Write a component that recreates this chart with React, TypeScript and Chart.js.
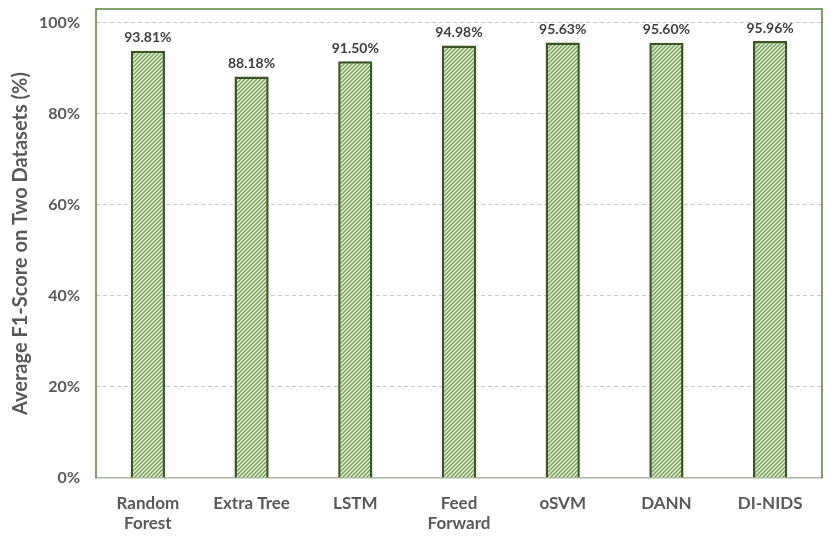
import React, { useEffect, useRef } from 'react';
import { Chart, registerables } from 'chart.js';

Chart.register(...registerables);

const models = [['Random', 'Forest'], 'Extra Tree', 'LSTM', ['Feed', 'Forward'], 'oSVM', 'DANN', 'DI-NIDS'];
const f1Scores = [93.81, 88.18, 91.5, 94.98, 95.63, 95.6, 95.96];
const yTicks = [0, 20, 40, 60, 80, 100];

const FONT = 'Lato, "Open Sans", sans-serif';
const TEXT = '#595959';

function makeHatch(): CanvasPattern | string {
  const c = document.createElement('canvas');
  c.width = 4;
  c.height = 4;
  const g = c.getContext('2d');
  if (!g) return '#c5deb5';
  g.fillStyle = '#ffffff';
  g.fillRect(0, 0, 4, 4);
  g.strokeStyle = '#76a855';
  g.lineWidth = 1.6;
  g.beginPath();
  g.moveTo(-1, 5);
  g.lineTo(5, -1);
  g.moveTo(-1, 1);
  g.lineTo(1, -1);
  g.moveTo(3, 5);
  g.lineTo(5, 3);
  g.stroke();
  return g.createPattern(c, 'repeat') || '#c5deb5';
}

const frame = {
  id: 'frame',
  afterDraw(chart: any) {
    const { ctx, chartArea: a } = chart;
    ctx.save();
    ctx.strokeStyle = '#548235';
    ctx.lineWidth = 1.5;
    ctx.beginPath();
    ctx.moveTo(a.left, a.bottom);
    ctx.lineTo(a.left, a.top);
    ctx.lineTo(a.right, a.top);
    ctx.lineTo(a.right, a.bottom);
    ctx.stroke();
    ctx.restore();
  },
};

const valueLabels = {
  id: 'valueLabels',
  afterDatasetsDraw(chart: any) {
    const { ctx } = chart;
    const meta = chart.getDatasetMeta(0);
    ctx.save();
    ctx.font = `bold 14px ${FONT}`;
    ctx.fillStyle = '#404040';
    ctx.textAlign = 'center';
    ctx.textBaseline = 'bottom';
    meta.data.forEach((bar: any, i: number) => {
      ctx.fillText(f1Scores[i].toFixed(2) + '%', bar.x, bar.y - 6);
    });
    ctx.restore();
  },
};

const App = () => {
  const chartRef = useRef<HTMLCanvasElement>(null);
  const chartInstance = useRef<Chart | null>(null);

  useEffect(() => {
    document.body.style.margin = '0';
    if (chartRef.current) {
      if (chartInstance.current) {
        chartInstance.current.destroy();
      }
      chartInstance.current = new Chart(chartRef.current, {
        type: 'bar',
        data: {
          labels: models,
          datasets: [
            {
              data: f1Scores,
              backgroundColor: makeHatch(),
              borderColor: '#375623',
              borderWidth: 2.5,
              barPercentage: 0.33,
              categoryPercentage: 1,
            },
          ],
        },
        options: {
          animation: false,
          responsive: false,
          layout: { padding: { top: 9, right: 8, left: 0, bottom: 0 } },
          plugins: {
            legend: { display: false },
            tooltip: { enabled: false },
          },
          scales: {
            x: {
              grid: { display: false },
              border: { color: '#a9b8a0', width: 1.5 },
              ticks: {
                color: TEXT,
                font: { family: FONT, size: 17, weight: 'bold' },
                padding: 7,
              },
              afterFit: (s: any) => {
                s.height = 60;
                s.paddingLeft = 0;
                s.paddingRight = 0;
              },
            },
            y: {
              min: 0,
              max: 103,
              afterBuildTicks: (s: any) => {
                s.ticks = yTicks.map((v) => ({ value: v }));
              },
              grid: {
                color: (c: any) => (c.tick && c.tick.value === 0 ? 'rgba(0,0,0,0)' : '#c8c8c8'),
                drawTicks: false,
              },
              border: { display: false, dash: [4, 3] },
              ticks: {
                color: TEXT,
                font: { family: FONT, size: 16, weight: 'bold' },
                padding: 16,
                callback: (v: any) => v + '%',
              },
              title: {
                display: true,
                text: 'Average F1-Score on Two Datasets (%)',
                color: TEXT,
                font: { family: FONT, size: 20, weight: 'bold' },
                padding: { top: 9, bottom: 0 },
              },
              afterFit: (s: any) => {
                s.width = 96;
                s.paddingTop = 0;
                s.paddingBottom = 0;
              },
            },
          },
        },
        plugins: [frame, valueLabels],
      });
    }
    return () => {
      if (chartInstance.current) {
        chartInstance.current.destroy();
        chartInstance.current = null;
      }
    };
  }, []);

  return (
    <div style={{ width: 830, height: 538, background: '#fff' }}>
      <canvas ref={chartRef} width={830} height={538} />
    </div>
  );
};

export default App;
